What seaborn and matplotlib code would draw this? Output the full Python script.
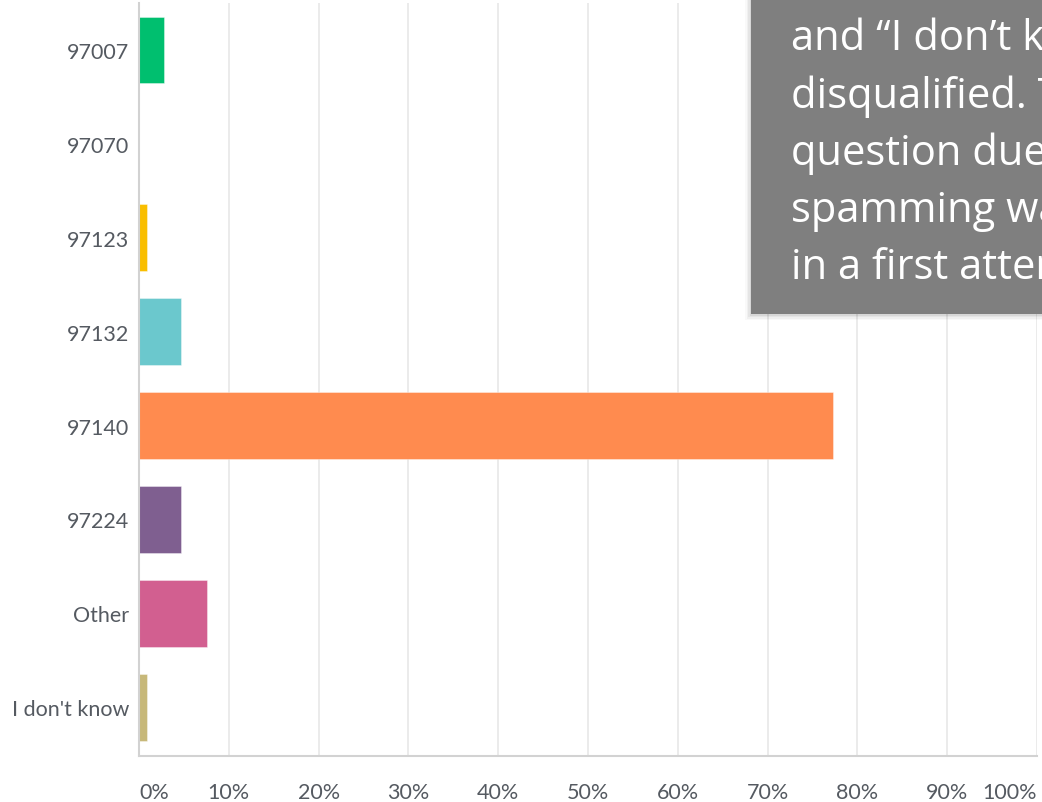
import matplotlib
matplotlib.use("Agg")
import matplotlib.pyplot as plt
from matplotlib.patches import Rectangle
import seaborn as sns
import pandas as pd

# Survey answers: share of respondents per ZIP code
categories = ["97007", "97070", "97123", "97132", "97140", "97224", "Other", "I don't know"]
percentages = [2.8, 0.0, 0.9, 4.7, 77.3, 4.7, 7.6, 0.9]
bar_colors = ["#00BF6F", "#507CB6", "#F9BE00", "#6BC8CD", "#FF8B4F", "#7F5F90", "#D25F90", "#C7B879"]
x_ticks = [0, 10, 20, 30, 40, 50, 60, 70, 80, 90, 100]
x_tick_labels = [f"{t}%" for t in x_ticks]

note_lines = [
    "and \u201cI don\u2019t know\u201d were",
    "disqualified. This",
    "question due to",
    "spamming was",
    "in a first attempt",
]

W, H = 1042, 803
sns.set_theme(style="white")
plt.rcParams["font.family"] = ["Lato", "DejaVu Sans"]

fig = plt.figure(figsize=(W / 100, H / 100), dpi=100)
fig.patch.set_facecolor("white")
ax = fig.add_axes([139 / W, (H - 757) / H, (1037 - 139) / W, (757 - 4) / H])

df = pd.DataFrame({"zip": categories, "pct": percentages})
sns.barplot(
    data=df, y="zip", x="pct", hue="zip", palette=bar_colors, order=categories,
    hue_order=categories, orient="h", width=0.71, legend=False, saturation=1,
    edgecolor="white", linewidth=0.6, ax=ax,
)
for p in ax.patches:
    p.set_edgecolor((1, 1, 1, 0.45))

ax.set_xlim(0, 100)
ax.set_ylim(len(categories) - 0.48, -0.5)
ax.set_xlabel("")
ax.set_ylabel("")

# vertical grid
ax.set_xticks(x_ticks)
ax.xaxis.grid(True, color="#e9e9e9", linewidth=1.3)
ax.yaxis.grid(False)
ax.set_axisbelow(True)

for side in ("top", "right"):
    ax.spines[side].set_visible(False)
for side in ("left", "bottom"):
    ax.spines[side].set_color("#d2d2d2")
    ax.spines[side].set_linewidth(1.5)

label_color = "#555a61"
ax.set_xticklabels(x_tick_labels, fontsize=15.5, color=label_color)
xt = ax.get_xticklabels()
xt[0].set_horizontalalignment("left")
xt[-1].set_horizontalalignment("right")
ax.tick_params(axis="x", length=0, pad=19)
ax.tick_params(axis="y", length=0, pad=7, labelsize=15.5, labelcolor=label_color)

# Note box in the upper right corner, with a soft drop shadow
box_left, box_bottom = 751, 315
for i, a in enumerate([0.025, 0.035, 0.045, 0.06]):
    off = 6 - i * 1.5
    fig.patches.append(Rectangle(
        ((box_left - off) / W, (H - box_bottom - off) / H), (W - box_left + 20) / W,
        (box_bottom + 20) / H, transform=fig.transFigure, facecolor="black",
        alpha=a, edgecolor="none", zorder=5))
fig.patches.append(Rectangle(
    (box_left / W, (H - box_bottom) / H), (W - box_left + 20) / W, (box_bottom + 20) / H,
    transform=fig.transFigure, facecolor="#7f7f7f", edgecolor="none", zorder=6))

baselines = [50, 108, 165, 222, 279]
for line, yb in zip(note_lines, baselines):
    fig.text(791 / W, (H - yb) / H, line, color="white", fontsize=30,
             family=["Open Sans", "DejaVu Sans"], ha="left", va="baseline", zorder=7)

fig.savefig("out.png", dpi=100, facecolor="white")
